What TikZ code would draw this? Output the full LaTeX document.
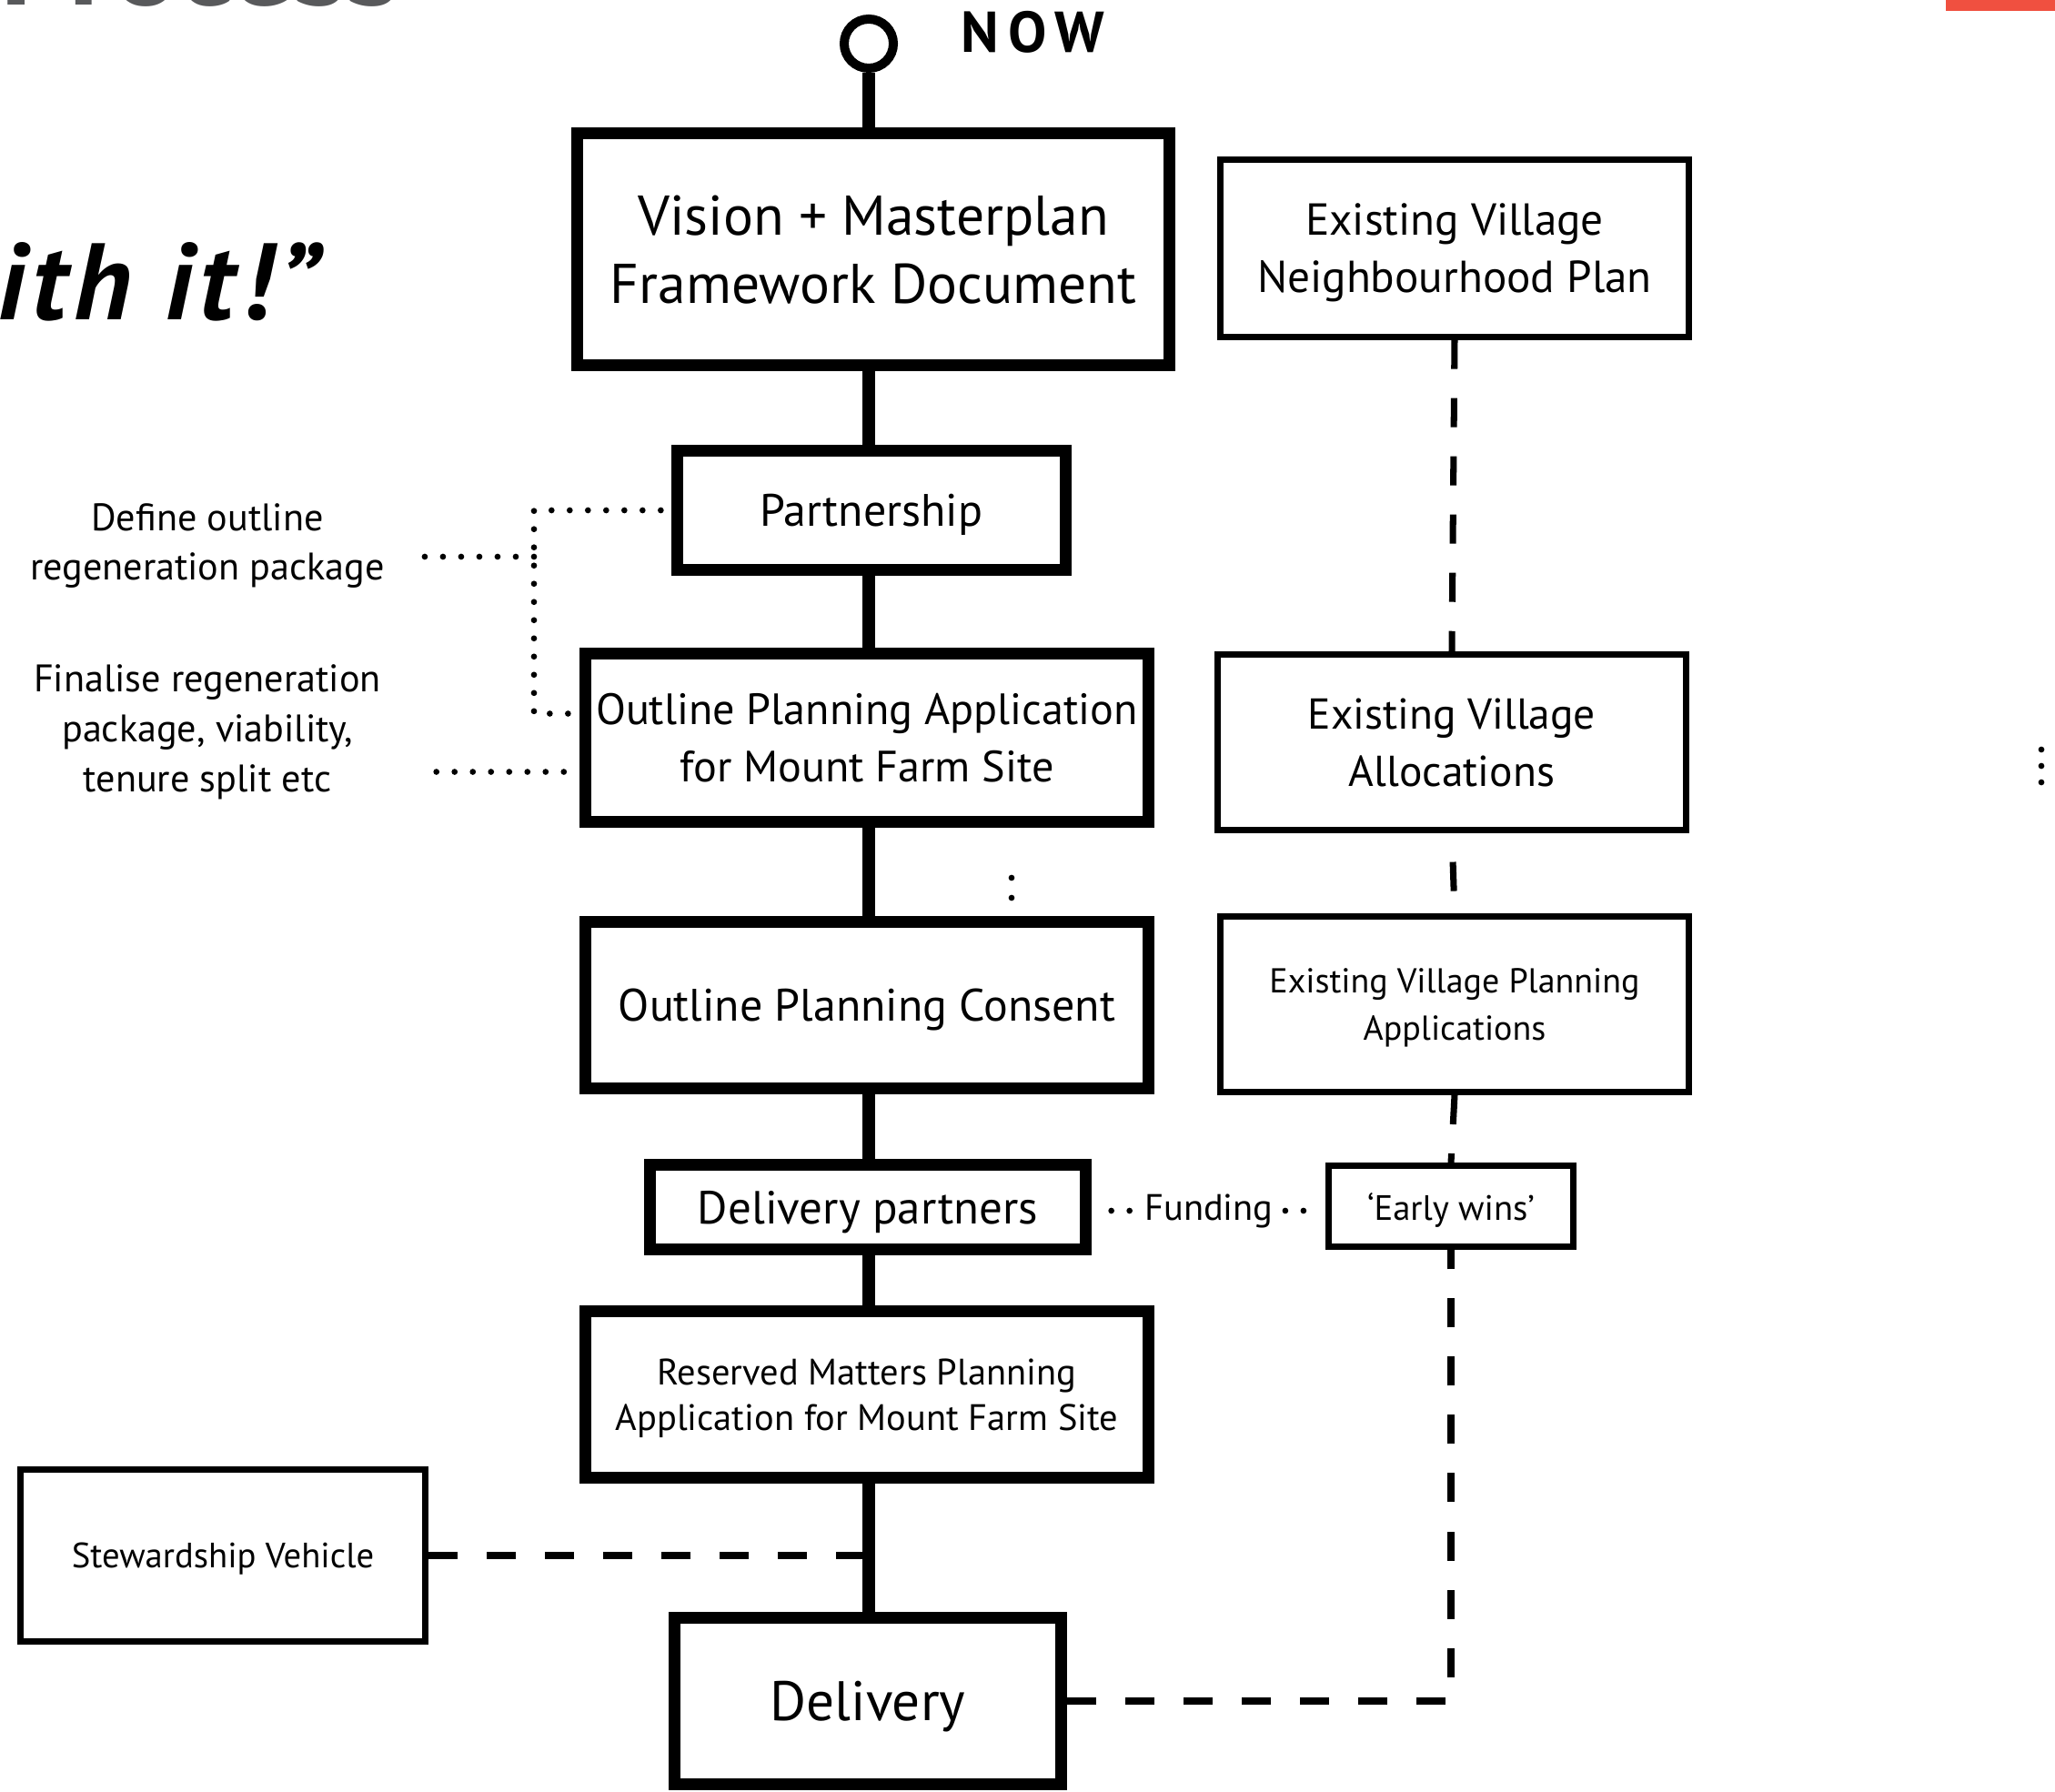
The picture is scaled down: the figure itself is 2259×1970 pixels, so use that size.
\documentclass[tikz,border=0pt]{standalone}
\usepackage{fontspec}
\setmainfont{PT Sans}
\usetikzlibrary{calc}
\definecolor{titlegray}{RGB}{88,89,91}
\definecolor{titlered}{RGB}{240,80,64}
\tikzset{
  mainbox/.style={draw, line width=3.7pt, fill=white, align=center, inner sep=0pt, text depth=-0.12cm, font=\fontsize{14.2}{17.9}\selectfont},
  sidebox/.style={draw, line width=2pt, fill=white, align=center, inner sep=0pt, text depth=0pt, font=\fontsize{13.5}{18}\selectfont},
  sidenote/.style={align=center, inner sep=0pt, font=\fontsize{12}{15.6}\selectfont},
  spine/.style={line width=3.9pt},
  dashline/.style={line width=2pt, dash pattern=on 0.32cm off 0.32cm},
  dotline/.style={line width=1.9pt, line cap=round, dash pattern=on 0pt off 0.2cm}
}

\begin{document}
\begin{tikzpicture}[x=0.01cm, y=-0.01cm]
  \clip (0,0) rectangle (2259,1970);
  \node[anchor=base west, inner sep=0pt, text=titlegray, font=\fontsize{39}{39}\selectfont\bfseries] (title) at (0,6) {Process};
  \node[anchor=base east, inner sep=0pt, font=\fontsize{34}{34}\selectfont\bfseries\itshape\addfontfeature{LetterSpace=6}] (quote) at (352,352) {ith it!”};
  \fill[titlered] (2139,0) rectangle (2259,12);

  \node[draw, circle, line width=2.85pt, minimum size=0.54cm, inner sep=0pt] (ring) at (955,48) {};
  \node[anchor=west, inner sep=0pt, font=\fontsize{18}{18}\selectfont\bfseries\addfontfeature{LetterSpace=16}] (now) at (1056,35) {NOW};

  \node[mainbox, minimum width=6.51cm, minimum height=2.55cm, text depth=-0.03cm, font=\fontsize{17.5}{21.3}\selectfont] (vision) at (960,274) {Vision + Masterplan\\Framework Document};
  \node[mainbox, minimum width=4.26cm, minimum height=1.30cm] (part) at (958,561) {Partnership};
  \node[mainbox, minimum width=6.19cm, minimum height=1.84cm, font=\fontsize{13.7}{17.9}\selectfont] (opa) at (953,811) {Outline Planning Application\\for Mount Farm Site};
  \node[mainbox, minimum width=6.19cm, minimum height=1.82cm] (opc) at (953,1105) {Outline Planning Consent};
  \node[mainbox, minimum width=4.78cm, minimum height=0.93cm, font=\fontsize{14.5}{17}\selectfont] (dp) at (954,1327) {Delivery partners};
  \node[mainbox, minimum width=6.19cm, minimum height=1.82cm, font=\fontsize{11.5}{14.3}\selectfont] (rm) at (953,1533) {Reserved Matters Planning\\Application for Mount Farm Site};
  \node[mainbox, minimum width=4.25cm, minimum height=1.82cm, font=\fontsize{17.4}{20}\selectfont] (del) at (954,1870) {Delivery};

  \node[sidebox, minimum width=5.15cm, minimum height=1.94cm, text depth=-0.06cm, font=\fontsize{14}{17.9}\selectfont] (np) at (1599,273) {Existing Village\\Neighbourhood Plan};
  \node[sidebox, minimum width=5.15cm, minimum height=1.92cm, text depth=-0.03cm] (alloc) at (1596,816) {Existing Village\\Allocations};
  \node[sidebox, minimum width=5.15cm, minimum height=1.93cm, font=\fontsize{10.8}{14.8}\selectfont] (evpa) at (1599,1104) {Existing Village Planning\\Applications};
  \node[sidebox, minimum width=2.69cm, minimum height=0.88cm, font=\fontsize{11}{13}\selectfont] (ew) at (1595,1326) {‘Early wins’};
  \node[sidebox, minimum width=4.45cm, minimum height=1.89cm, font=\fontsize{11}{13}\selectfont] (stew) at (245,1710) {Stewardship Vehicle};

  \node[sidenote] (def) at (228,600) {Define outline\\regeneration package};
  \node[sidenote] (fin) at (228,805) {Finalise regeneration\\package, viability,\\tenure split etc};
  \node[inner sep=0pt, font=\fontsize{11.5}{11.5}\selectfont] (fund) at (1329,1331) {Funding};

  \draw[spine] (ring.south) -- (ring |- vision.north);
  \foreach \a/\b in {vision/part, part/opa, opa/opc, opc/dp, dp/rm, rm/del}
    \draw[spine] (ring |- \a.south) -- (ring |- \b.north);

  \draw[dashline] (np.south) -- (alloc.north);
  \draw[dashline, dash phase=0.32cm] (alloc.south) -- (evpa.north);
  \draw[dashline] (evpa.south) -- (ew.north);
  \draw[dashline] (del.east) -| (ew.south);
  \draw[dashline] (stew.east) -- (stew.east -| ring);

  \coordinate (bend) at (587,0);
  \coordinate (defin) at (587,612);
  \coordinate (opain) at ([yshift=0.265cm]opa.west);
  \coordinate (finin) at ([yshift=-0.375cm]opa.west);
  \draw[dotline] ([xshift=-0.12cm]part.west) -- (bend |- part.west) -- (bend |- opain) -- (opain);
  \draw[dotline, shorten >=0.43cm] (defin) -- (defin -| def.east);
  \draw[dotline, shorten <=0.17cm, shorten >=0.44cm] (finin) -- (finin -| fin.east);
  \draw[dotline, shorten <=0.22cm] (fund.west -| dp.east) -- (fund.west);
  \draw[dotline, shorten <=0.24cm] (fund.east -| ew.west) -- (fund.east);

  \coordinate (colon) at (1112,965);
  \draw[dotline, dash pattern=on 0pt off 0.22cm] (colon) -- (colon |- opc.north);
  \draw[dotline, dash pattern=on 0pt off 0.18cm] (2244,824) -- (2244,862);
\end{tikzpicture}
\end{document}
